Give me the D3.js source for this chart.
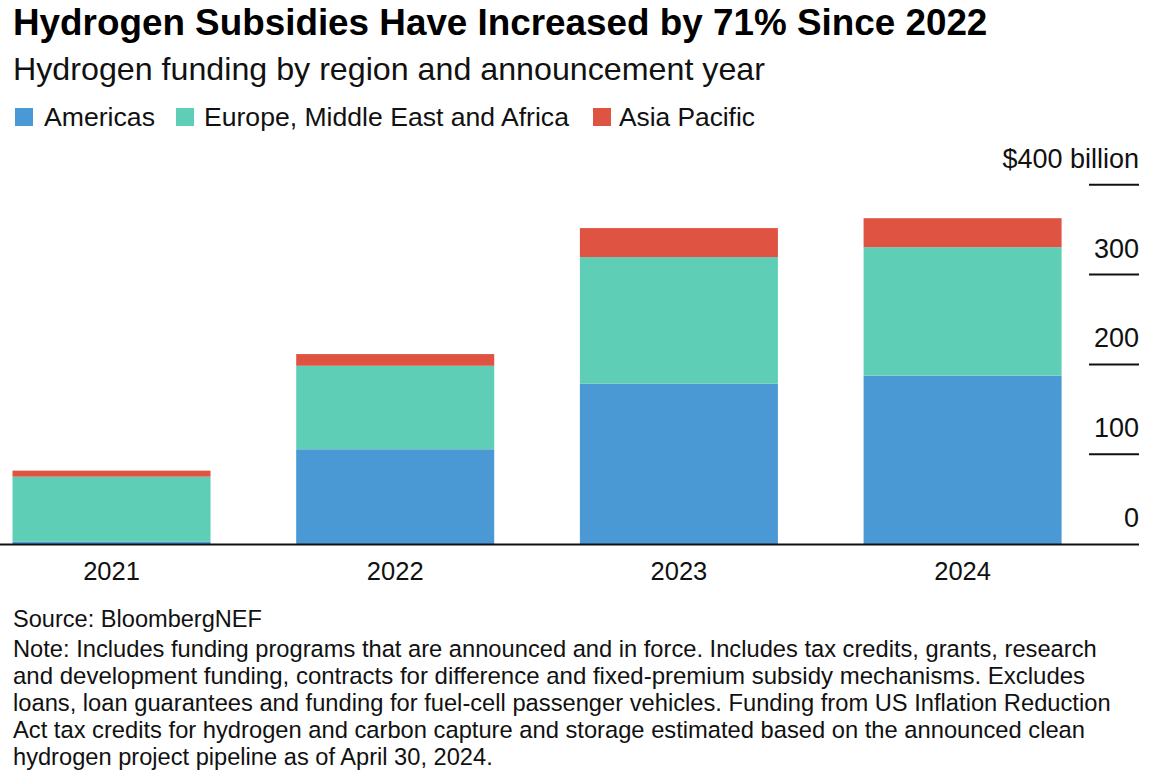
<!DOCTYPE html>
<html><head><meta charset="utf-8">
<script src="https://cdn.jsdelivr.net/npm/d3@7"></script>
<style>
html,body{margin:0;padding:0;background:#fff;}
svg{display:block;font-family:"Liberation Sans",Arial,Helvetica,sans-serif;}
</style></head>
<body>
<svg id="chart" width="1152" height="777"></svg>
<script>
const years = ["2021","2022","2023","2024"];
const seriesNames = ["Americas","Europe, Middle East and Africa","Asia Pacific"];
const americas = [2.5, 105.5, 178.5, 187.5];
const emea = [72.5, 93, 141, 143];
const asiaPacific = [6.7, 13, 32.3, 32.3];
const yTicks = [0, 100, 200, 300, 400];
const yTickLabels = ["0","100","200","300","$400 billion"];
const colors = ["#4a99d5","#5ecfb6","#de5342"];
const title = "Hydrogen Subsidies Have Increased by 71% Since 2022";
const subtitle = "Hydrogen funding by region and announcement year";
const sourceText = "Source: BloombergNEF";
const noteLines = [
 "Note: Includes funding programs that are announced and in force. Includes tax credits, grants, research",
 "and development funding, contracts for difference and fixed-premium subsidy mechanisms. Excludes",
 "loans, loan guarantees and funding for fuel-cell passenger vehicles. Funding from US Inflation Reduction",
 "Act tax credits for hydrogen and carbon capture and storage estimated based on the announced clean",
 "hydrogen project pipeline as of April 30, 2024."
];

const svg = d3.select("#chart");

function fit(sel, target){
  const w = sel.node().getComputedTextLength();
  const fs = parseFloat(sel.attr("font-size"));
  sel.attr("font-size", (fs*target/w).toFixed(2));
}

// Title & subtitle
fit(svg.append("text").attr("x",13).attr("y",35).attr("font-size",32).attr("font-weight","bold").attr("fill","#000").text(title), 975);
fit(svg.append("text").attr("x",13).attr("y",80).attr("font-size",27).attr("fill","#111").text(subtitle), 752);

// Legend
const legendX = [[15,44],[176,204],[593,619]];
const legendW = [111, 365, 136];
seriesNames.forEach((n,i)=>{
  svg.append("rect").attr("x",legendX[i][0]).attr("y",108).attr("width",18).attr("height",18).attr("fill",colors[i]);
  fit(svg.append("text").attr("x",legendX[i][1]).attr("y",126).attr("font-size",24).attr("fill","#111").text(n), legendW[i]);
});

// Scales
const x = d3.scaleBand().domain(years).range([12.5, 1061.6]).paddingInner(0.302).paddingOuter(0);
const y = d3.scaleLinear().domain([0,400]).range([544, 184.8]);

const table = years.map((yr,i)=>({year:yr, Americas:americas[i], "Europe, Middle East and Africa":emea[i], "Asia Pacific":asiaPacific[i]}));
const stack = d3.stack().keys(seriesNames)(table);

svg.append("g").selectAll("g").data(stack).join("g").attr("fill",(d,i)=>colors[i])
  .selectAll("rect").data(d=>d).join("rect")
  .attr("x",d=>x(d.data.year)).attr("width",x.bandwidth())
  .attr("y",d=>y(d[1])).attr("height",d=>y(d[0])-y(d[1]));

// Y axis on right: short lines with labels above
const yg = svg.append("g");
yTicks.forEach((t,i)=>{
  if(t>0) yg.append("line").attr("x1",1089).attr("x2",1139).attr("y1",y(t)).attr("y2",y(t)).attr("stroke","#111").attr("stroke-width",2);
  yg.append("text").attr("x",1139).attr("y",y(t)-17).attr("text-anchor","end").attr("font-size",27).attr("fill","#111").text(yTickLabels[i]);
});

// baseline
svg.append("line").attr("x1",0).attr("x2",1139).attr("y1",y(0)+0.5).attr("y2",y(0)+0.5).attr("stroke","#111").attr("stroke-width",2);

// X labels
const xAxis = d3.axisBottom(x).tickSize(0).tickPadding(0);
const xg = svg.append("g").attr("transform",`translate(0,${y(0)})`).call(xAxis);
xg.select(".domain").remove();
xg.selectAll("text").attr("font-size",25.5).attr("font-family","Liberation Sans, Arial, sans-serif").attr("fill","#111").attr("dy",0).attr("y",36);

// Footer
fit(svg.append("text").attr("x",13).attr("y",627).attr("font-size",20).attr("fill","#111").text(sourceText), 249);
const noteW = [1084, 1072, 1098, 1072, 480];
noteLines.forEach((l,i)=>{
  const t = svg.append("text").attr("x",13).attr("y",657+i*27).attr("font-size",20).attr("fill","#111").text(l);
  fit(t, noteW[i]);
});
</script>
</body></html>
